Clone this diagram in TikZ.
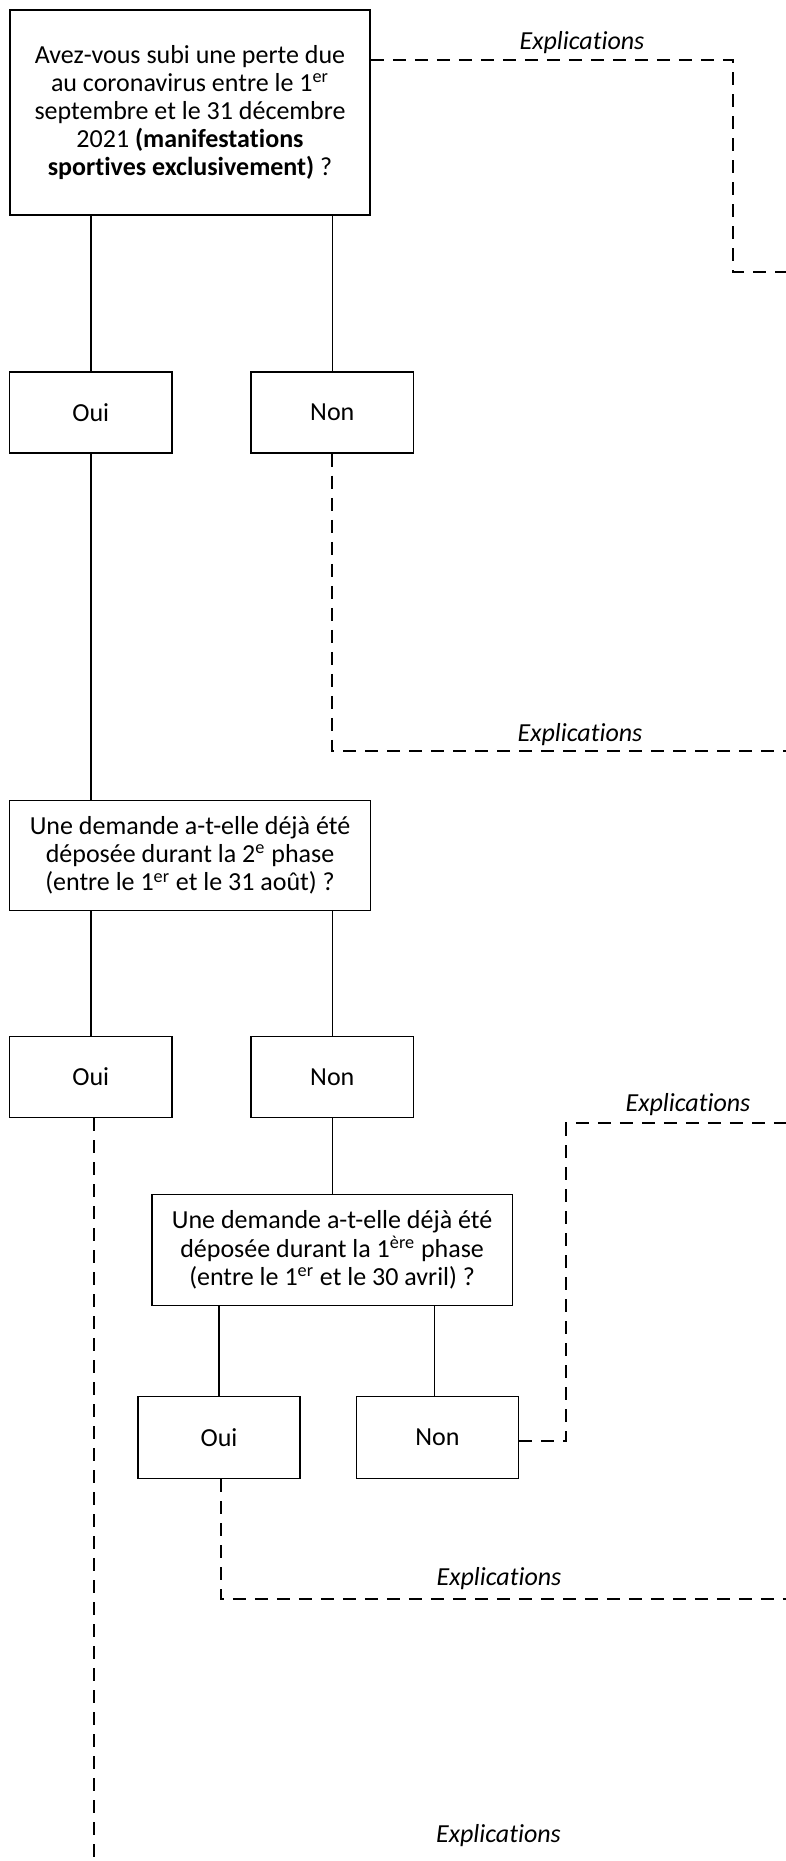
\documentclass[tikz,border=0pt]{standalone}
\usepackage{fontspec}
\setmainfont[Ligatures=NoCommon]{Carlito}
\begin{document}
\begin{tikzpicture}[x=0.5pt,y=-0.5pt,
  boite/.style={draw, line width=0.75pt, align=center, inner sep=0pt, font=\fontsize{13}{14.1}\selectfont},
  petite/.style={boite, minimum width=81.25pt, minimum height=40.6pt},
  trait/.style={line width=0.75pt},
  tiret/.style={line width=1pt, dash pattern=on 6.5pt off 4.5pt},
  expl/.style={font=\fontsize{13}{15}\selectfont\itshape, anchor=base, inner sep=0pt}]
\fill[white] (0,0) rectangle (786,1861);
\useasboundingbox (0,0) rectangle (786,1861);

% questions
\node[boite, minimum width=180pt, minimum height=102.5pt] (q1) at (190,112.5)
  {Avez-vous subi une perte due\\au coronavirus entre le 1\textsuperscript{er}\\septembre et le 31 décembre\\2021 \textbf{(manifestations}\\\textbf{sportives exclusivement)} ?};
\node[petite] (oui1) at (90.75,412.4) {Oui};
\node[petite] (non1) at (332.3,412.4) {Non};

\node[boite, minimum width=180.5pt, minimum height=55pt] (q2) at (190,855.3)
  {Une demande a-t-elle déjà été\\déposée durant la 2\textsuperscript{e} phase\\(entre le 1\textsuperscript{er} et le 31 août) ?};
\node[petite] (oui2) at (90.75,1076.85) {Oui};
\node[petite] (non2) at (332.3,1076.85) {Non};

\node[boite, minimum width=180.2pt, minimum height=55.5pt] (q3) at (332.1,1249.8)
  {Une demande a-t-elle déjà été\\déposée durant la 1\textsuperscript{ère} phase\\(entre le 1\textsuperscript{er} et le 30 avril) ?};
\node[petite, minimum width=81pt, minimum height=40.8pt] (oui3) at (219,1437.5) {Oui};
\node[petite, minimum width=81pt, minimum height=40.8pt] (non3) at (437.4,1437.5) {Non};

% labels
\node[expl] (l1) at (582,50) {Explications};
\node[expl] (l2) at (580,741.5) {Explications};
\node[expl] (l3) at (688,1111.7) {Explications};
\node[expl] (l4) at (499,1585) {Explications};
\node[expl] (l5) at (498.5,1842) {Explications};

% free ends
\coordinate (c1) at (732.7,60);
\coordinate (c1b) at (732.7,271.7);
\coordinate (e1) at (786,271.7);
\coordinate (e2) at (786,751);
\coordinate (c3) at (566.3,1440.5);
\coordinate (e3) at (786,1123.1);
\coordinate (e4) at (786,1598.8);
\coordinate (e5) at (93.7,1861);

% solid connectors
\draw[trait] (q1.south -| oui1) -- (oui1.north);
\draw[trait] (q1.south -| non1) -- (non1.north);
\draw[trait] (oui1.south) -- (oui1.south |- q2.north);
\draw[trait] (q2.south -| oui2) -- (oui2.north);
\draw[trait] (q2.south -| non2) -- (non2.north);
\draw[trait] (non2.south) -- (non2.south |- q3.north);
\draw[trait] (q3.south -| oui3) -- (oui3.north);
\draw[trait] ([xshift=-1.4pt]q3.south -| non3) -- ([xshift=-1.4pt]non3.north);

% dashed connectors
\draw[tiret] (q1.east |- c1) -- (c1) -- (c1b) -- (e1);
\draw[tiret] (non1.south) -- (non1.south |- e2) -- (e2);
\draw[tiret] (non3.east |- c3) -- (c3) -- (c3 |- e3) -- (e3);
\draw[tiret] ([xshift=0.8pt]oui3.south) -- ([xshift=0.8pt]oui3.south |- e4) -- (e4);
\draw[tiret] (oui2.south -| e5) -- (e5);
\end{tikzpicture}
\end{document}
